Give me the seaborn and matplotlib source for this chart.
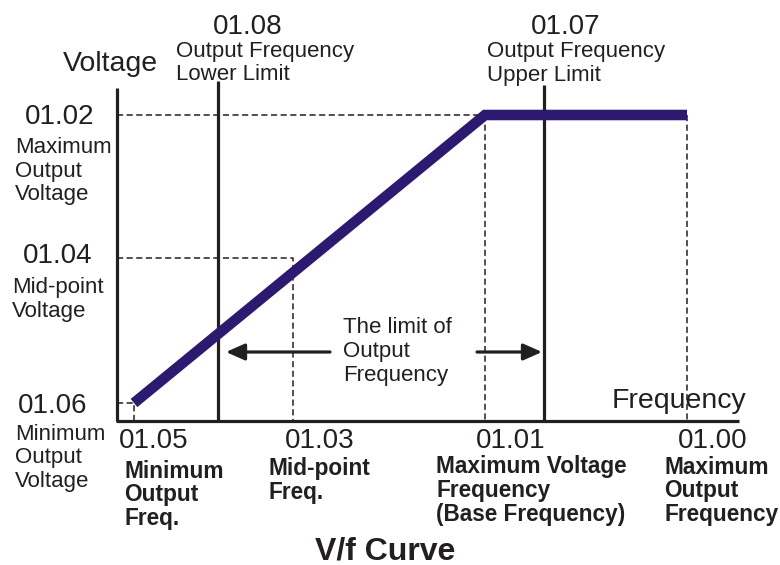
import matplotlib
matplotlib.use("Agg")
import matplotlib.pyplot as plt
import seaborn as sns
import pandas as pd

# V/f curve parameters (frequency and voltage in drawing units)
min_freq, mid_freq, base_freq, max_freq = 1.7, 17.6, 36.8, 57.0
min_volt, mid_volt, max_volt = 1.8, 16.3, 30.6
lower_limit, upper_limit = 10.1, 42.7
axis_end_freq, axis_top_volt = 62.2, 33.3

curve_freq = [min_freq, base_freq, max_freq]
curve_volt = [min_volt, max_volt, max_volt]

param_codes = ["01.00", "01.01", "01.02", "01.03", "01.04", "01.05", "01.06", "01.07", "01.08"]

sns.set_theme(style="white")
plt.rcParams["font.family"] = ["Liberation Sans", "DejaVu Sans"]

INK = "#231f20"
NAVY = "#2b1a70"

fig = plt.figure(figsize=(7.8, 5.65), dpi=100)
ax = fig.add_axes([0, 0, 1, 1])
ax.set_xlim(-11.7, 66.3)
ax.set_ylim(-14.4, 42.1)
ax.set_axis_off()

# dashed guide lines
dash = dict(color=INK, lw=1.1, linestyle=(0, (4, 2.3)), zorder=1)
ax.plot([0, base_freq], [max_volt, max_volt], **dash)
ax.plot([base_freq, base_freq], [max_volt, 0], **dash)
ax.plot([max_freq, max_freq], [max_volt, 0], **dash)
ax.plot([0, mid_freq, mid_freq], [mid_volt, mid_volt, 0], **dash)
ax.plot([0, min_freq, min_freq], [min_volt, min_volt, 0], **dash)

# axes
ax.plot([-0.1, axis_end_freq], [0, 0], color=INK, lw=2.3, solid_capstyle="butt", zorder=3)
ax.plot([0, 0], [0, axis_top_volt], color=INK, lw=2.3, solid_capstyle="butt", zorder=3)

# frequency limit lines
ax.plot([lower_limit, lower_limit], [0, 34.0], color=INK, lw=2.3, solid_capstyle="butt", zorder=3)
ax.plot([upper_limit, upper_limit], [0, 33.6], color=INK, lw=2.3, solid_capstyle="butt", zorder=3)

# the V/f curve
df = pd.DataFrame({"freq": curve_freq, "volt": curve_volt})
sns.lineplot(data=df, x="freq", y="volt", ax=ax, color=NAVY, lw=7.6, sort=False,
             solid_capstyle="butt", solid_joinstyle="miter", zorder=4)

# arrows showing the output frequency limits
arrow_y = 6.9
aprops = dict(arrowstyle="-|>,head_length=0.45,head_width=0.2", color=INK, lw=2.3,
              mutation_scale=25, shrinkA=0, shrinkB=0)
ax.annotate("", xy=(lower_limit + 0.8, arrow_y), xytext=(21.3, arrow_y), arrowprops=aprops, zorder=5)
ax.annotate("", xy=(upper_limit - 0.2, arrow_y), xytext=(36.0, arrow_y), arrowprops=aprops, zorder=5)

BIG = 20
SMALL = 16
BOLD = 16.3


def lines(x, y0, texts, size=SMALL, weight="normal", step=2.35):
    for i, t in enumerate(texts):
        ax.text(x, y0 - i * step, t, fontsize=size, fontweight=weight, color=INK,
                ha="left", va="baseline")


def code(x, y, text, ha="left"):
    ax.text(x, y, text, fontsize=BIG, color=INK, ha=ha, va="baseline")


# axis titles
ax.text(-5.4, 35.0, "Voltage", fontsize=20.5, color=INK, va="baseline")
ax.text(49.5, 1.3, "Frequency", fontsize=20.5, color=INK, va="baseline")

# limit parameters
code(13.1, 38.7, param_codes[8], ha="center")
lines(5.9, 36.4, ["Output Frequency", "Lower Limit"])
code(44.9, 38.7, param_codes[7], ha="center")
lines(37.0, 36.4, ["Output Frequency", "Upper Limit"])

# voltage parameters
code(-9.2, 29.7, param_codes[2])
lines(-10.2, 26.8, ["Maximum", "Output", "Voltage"])
code(-9.4, 15.8, param_codes[4])
lines(-10.5, 12.8, ["Mid-point", "Voltage"])
code(-9.9, 0.8, param_codes[6])
lines(-10.2, -1.9, ["Minimum", "Output", "Voltage"])

# frequency parameters
freq_code_y = -2.75
code(0.2, freq_code_y, param_codes[5])
lines(0.7, -5.7, ["Minimum", "Output", "Freq."], size=BOLD, weight="bold")
code(16.8, freq_code_y, param_codes[3])
lines(15.1, -5.35, ["Mid-point", "Freq."], size=BOLD, weight="bold", step=2.4)
code(35.9, freq_code_y, param_codes[1])
lines(31.9, -5.25, ["Maximum Voltage", "Frequency", "(Base Frequency)"], size=BOLD, weight="bold", step=2.35)
code(56.1, freq_code_y, param_codes[0])
lines(54.7, -5.25, ["Maximum", "Output", "Frequency"], size=BOLD, weight="bold", step=2.35)

# range note
lines(22.6, 8.8, ["The limit of", "Output", "Frequency"], step=2.4)

# title
ax.text(19.8, -13.8, "V/f Curve", fontsize=23, fontweight="bold", color=INK, va="baseline")

fig.savefig("out.png", dpi=100, facecolor="white")
